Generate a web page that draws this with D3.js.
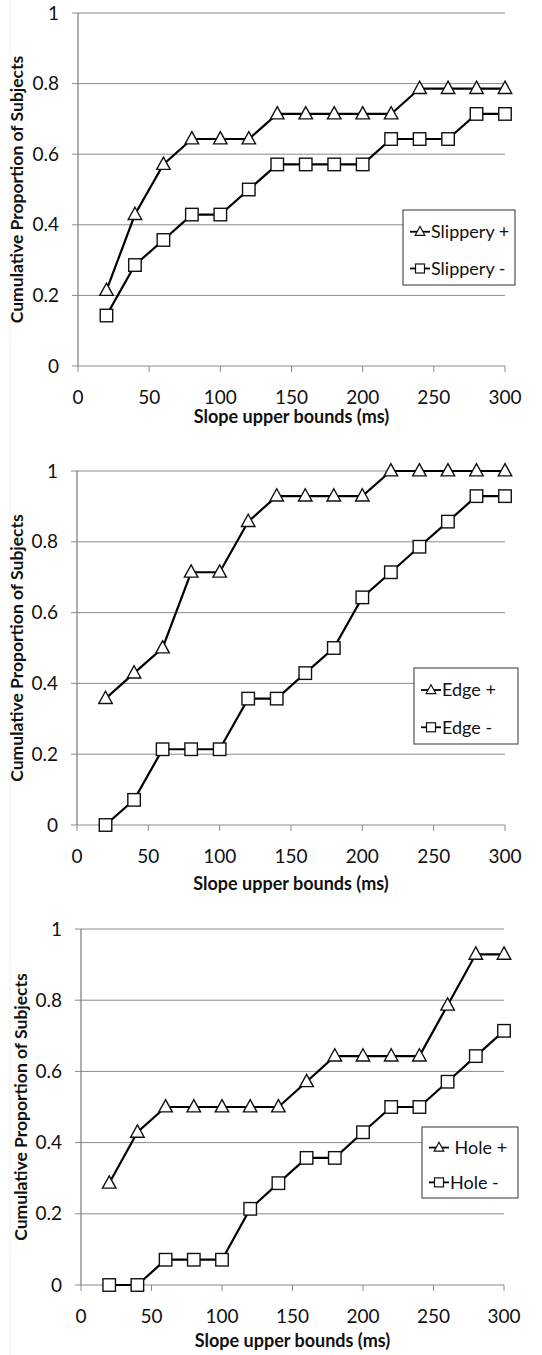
<!DOCTYPE html>
<html>
<head>
<meta charset="utf-8">
<script src="https://cdn.jsdelivr.net/npm/d3@7"></script>
<style>
  html, body { margin: 0; padding: 0; background: #fff; }
  svg { display: block; }
  text { font-family: Lato, "Open Sans", sans-serif; fill: #111; }
</style>
</head>
<body>
<script>
// ---- data ----
const xValues = [20, 40, 60, 80, 100, 120, 140, 160, 180, 200, 220, 240, 260, 280, 300];

const slipperyPlus  = [0.214, 0.429, 0.571, 0.643, 0.643, 0.643, 0.714, 0.714, 0.714, 0.714, 0.714, 0.786, 0.786, 0.786, 0.786];
const slipperyMinus = [0.143, 0.286, 0.357, 0.429, 0.429, 0.500, 0.571, 0.571, 0.571, 0.571, 0.643, 0.643, 0.643, 0.714, 0.714];

const edgePlus  = [0.357, 0.429, 0.500, 0.714, 0.714, 0.857, 0.929, 0.929, 0.929, 0.929, 1.000, 1.000, 1.000, 1.000, 1.000];
const edgeMinus = [0.000, 0.071, 0.214, 0.214, 0.214, 0.357, 0.357, 0.429, 0.500, 0.643, 0.714, 0.786, 0.857, 0.929, 0.929];

const holePlus  = [0.286, 0.429, 0.500, 0.500, 0.500, 0.500, 0.500, 0.571, 0.643, 0.643, 0.643, 0.643, 0.786, 0.929, 0.929];
const holeMinus = [0.000, 0.000, 0.071, 0.071, 0.071, 0.214, 0.286, 0.357, 0.357, 0.429, 0.500, 0.500, 0.571, 0.643, 0.714];

const seriesNames = [["Slippery +", "Slippery -"], ["Edge +", "Edge -"], [" Hole +", "Hole -"]];
const xTicks = [0, 50, 100, 150, 200, 250, 300];
const yTicks = [0, 0.2, 0.4, 0.6, 0.8, 1];
const xTitle = "Slope upper bounds (ms)";
const yTitle = "Cumulative Proportion of Subjects";

// ---- layout (positions only) ----
const layouts = [
  { left: 78, right: 505, top: 13,  bottom: 366,  labelDy: 31, titleDy: 51, yTitleX: 17,
    legend: { x: 403, y: 210, w: 112, h: 75 } },
  { left: 77, right: 505, top: 471, bottom: 825,  labelDy: 31, titleDy: 59, yTitleX: 17,
    legend: { x: 414, y: 668, w: 104, h: 76 } },
  { left: 81, right: 504, top: 929, bottom: 1285, labelDy: 31, titleDy: 56, yTitleX: 21,
    legend: { x: 422, y: 1127, w: 96, h: 71 } }
];

const W = 542, H = 1355;
const svg = d3.select("body").append("svg").attr("width", W).attr("height", H);

// faint left border of the figure
svg.append("line").attr("x1", 10).attr("x2", 10).attr("y1", 0).attr("y2", H)
  .attr("stroke", "#f0f0f0").attr("stroke-width", 1);

function triPath(w, h) {
  return `M0,${-h * 0.6}L${w / 2},${h * 0.4}L${-w / 2},${h * 0.4}Z`;
}

function drawMarker(g, type, cx, cy, size, sw) {
  if (type === "tri") {
    g.append("path").attr("d", triPath(size * 1.08, size * 0.98))
      .attr("transform", `translate(${cx},${cy})`)
      .attr("fill", "#fff").attr("stroke", "#111").attr("stroke-width", sw);
  } else {
    g.append("rect").attr("x", cx - size / 2).attr("y", cy - size / 2)
      .attr("width", size).attr("height", size)
      .attr("fill", "#fff").attr("stroke", "#111").attr("stroke-width", sw);
  }
}

function drawPanel(L, plus, minus, names) {
  const g = svg.append("g");
  const x = d3.scaleLinear().domain([0, 300]).range([L.left, L.right]);
  const y = d3.scaleLinear().domain([0, 1]).range([L.bottom, L.top]);

  // gridlines + y ticks (extend 6px left of axis)
  g.selectAll("line.grid").data(yTicks.filter(d => d > 0)).enter().append("line")
    .attr("x1", L.left - 6).attr("x2", L.right)
    .attr("y1", d => y(d)).attr("y2", d => y(d))
    .attr("stroke", "#8a8a8a").attr("stroke-width", 1);

  // x axis line + ticks
  g.append("line").attr("x1", L.left - 6).attr("x2", L.right)
    .attr("y1", y(0)).attr("y2", y(0)).attr("stroke", "#8a8a8a").attr("stroke-width", 1);
  g.selectAll("line.xt").data(xTicks).enter().append("line")
    .attr("x1", d => x(d)).attr("x2", d => x(d))
    .attr("y1", y(0)).attr("y2", y(0) + 6)
    .attr("stroke", "#8a8a8a").attr("stroke-width", 1);

  // y axis line
  g.append("line").attr("x1", L.left).attr("x2", L.left)
    .attr("y1", y(1)).attr("y2", y(0)).attr("stroke", "#7a7a7a").attr("stroke-width", 1.2);

  // y tick labels
  g.selectAll("text.yl").data(yTicks).enter().append("text")
    .attr("x", L.left - 19).attr("y", d => y(d))
    .attr("dy", "0.35em").attr("text-anchor", "end")
    .style("font-size", "19px").text(d => String(d));

  // x tick labels
  g.selectAll("text.xl").data(xTicks).enter().append("text")
    .attr("x", d => x(d)).attr("y", y(0) + L.labelDy)
    .attr("dy", "0.35em").attr("text-anchor", "middle")
    .style("font-size", "19px").text(d => String(d));

  // axis titles
  g.append("text").attr("x", (L.left + L.right) / 2).attr("y", y(0) + L.titleDy)
    .attr("dy", "0.35em").attr("text-anchor", "middle")
    .style("font-size", "18px").style("font-weight", "bold").text(xTitle);
  g.append("text")
    .attr("transform", `translate(${L.yTitleX},${(L.top + L.bottom) / 2}) rotate(-90)`)
    .attr("dy", "0.35em").attr("text-anchor", "middle")
    .style("font-size", "17.5px").style("font-weight", "bold").text(yTitle);

  // series lines and markers
  const line = d3.line().x((d, i) => x(xValues[i])).y(d => y(d));
  [[plus, "tri"], [minus, "sq"]].forEach(([vals, type]) => {
    g.append("path").datum(vals).attr("d", line)
      .attr("fill", "none").attr("stroke", "#000").attr("stroke-width", 2.2);
    vals.forEach((v, i) => drawMarker(g, type, x(xValues[i]), y(v), 12.5, 1.4));
  });

  // legend
  const lg = L.legend;
  g.append("rect").attr("x", lg.x).attr("y", lg.y).attr("width", lg.w).attr("height", lg.h)
    .attr("fill", "#fff").attr("stroke", "#333").attr("stroke-width", 1);
  const rows = [lg.y + lg.h * 0.29, lg.y + lg.h * 0.78];
  [["tri", names[0]], ["sq", names[1]]].forEach(([type, name], k) => {
    const cy = rows[k];
    const x0 = lg.x + 7, x1 = lg.x + 27;
    g.append("line").attr("x1", x0).attr("x2", x1).attr("y1", cy).attr("y2", cy)
      .attr("stroke", "#000").attr("stroke-width", 1.8);
    drawMarker(g, type, (x0 + x1) / 2, cy, 9, 1.2);
    g.append("text").attr("x", x1 + 1).attr("y", cy).attr("dy", "0.35em")
      .style("font-size", "18px").style("white-space", "pre").text(name);
  });
}

layouts.forEach((L, i) => {
  const pairs = [[slipperyPlus, slipperyMinus], [edgePlus, edgeMinus], [holePlus, holeMinus]][i];
  drawPanel(L, pairs[0], pairs[1], seriesNames[i]);
});
</script>
</body>
</html>
